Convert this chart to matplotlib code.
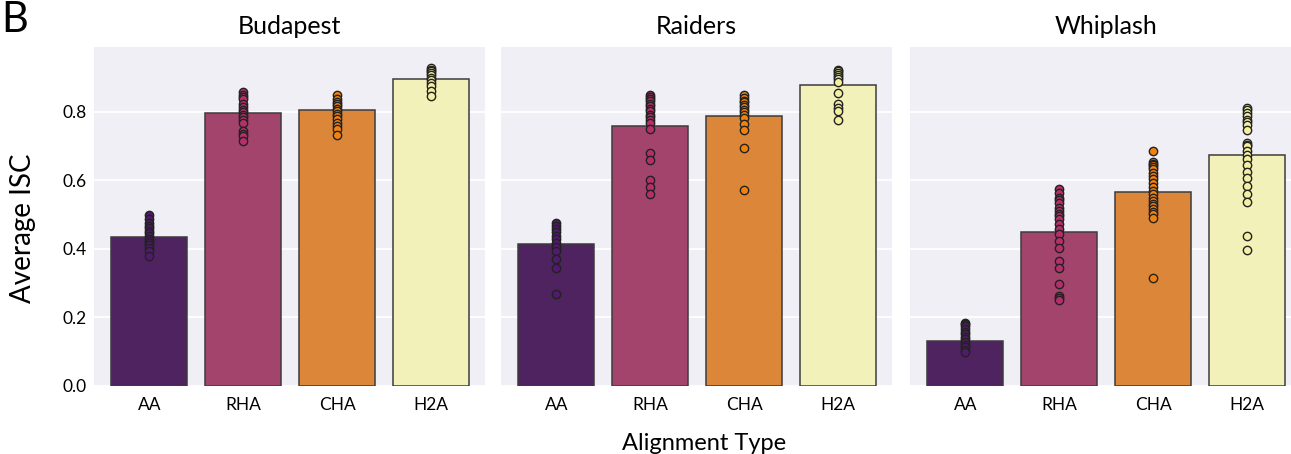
import matplotlib
matplotlib.use('Agg')
from matplotlib import pyplot as plt

categories = ['AA', 'RHA', 'CHA', 'H2A']
movies = ['Budapest', 'Raiders', 'Whiplash']

# bar heights (mean ISC per alignment type)
budapest_means = [0.435, 0.797, 0.804, 0.896]
raiders_means = [0.415, 0.760, 0.787, 0.879]
whiplash_means = [0.132, 0.449, 0.567, 0.675]

# individual subject values
budapest_aa = [0.499, 0.486, 0.476, 0.467, 0.460, 0.452, 0.445, 0.438, 0.430,
               0.423, 0.418, 0.410, 0.404, 0.393, 0.379]
budapest_rha = [0.858, 0.850, 0.843, 0.836, 0.823, 0.815, 0.806, 0.799, 0.792,
                0.785, 0.777, 0.768, 0.743, 0.736, 0.729, 0.714]
budapest_cha = [0.848, 0.838, 0.828, 0.822, 0.816, 0.808, 0.801, 0.794, 0.787,
                0.779, 0.766, 0.758, 0.750, 0.731]
budapest_h2a = [0.928, 0.923, 0.918, 0.913, 0.908, 0.900, 0.892, 0.885, 0.874,
                0.860, 0.847]

raiders_aa = [0.476, 0.467, 0.457, 0.448, 0.438, 0.428, 0.418, 0.405, 0.394,
              0.372, 0.345, 0.268]
raiders_rha = [0.850, 0.843, 0.837, 0.831, 0.823, 0.816, 0.808, 0.801, 0.792,
               0.785, 0.777, 0.766, 0.750, 0.680, 0.659, 0.601, 0.581, 0.559]
raiders_cha = [0.850, 0.840, 0.833, 0.828, 0.820, 0.814, 0.806, 0.799, 0.790,
               0.782, 0.763, 0.746, 0.693, 0.571]
raiders_h2a = [0.923, 0.918, 0.913, 0.908, 0.903, 0.895, 0.886, 0.855, 0.823,
               0.810, 0.801, 0.777]

whiplash_aa = [0.185, 0.180, 0.174, 0.166, 0.159, 0.152, 0.144, 0.136, 0.127,
               0.120, 0.113, 0.105, 0.098]
whiplash_rha = [0.575, 0.562, 0.549, 0.542, 0.535, 0.520, 0.512, 0.503, 0.495,
                0.486, 0.472, 0.457, 0.443, 0.423, 0.404, 0.365, 0.345, 0.297,
                0.263, 0.256, 0.250]
whiplash_cha = [0.687, 0.654, 0.649, 0.644, 0.638, 0.632, 0.622, 0.612, 0.603,
                0.593, 0.581, 0.569, 0.559, 0.549, 0.540, 0.532, 0.524, 0.515,
                0.508, 0.501, 0.491, 0.316]
whiplash_h2a = [0.811, 0.804, 0.797, 0.787, 0.777, 0.769, 0.761, 0.748, 0.709,
                0.704, 0.699, 0.687, 0.675, 0.661, 0.644, 0.625, 0.606, 0.583,
                0.559, 0.538, 0.438, 0.397]

y_ticks = [0.0, 0.2, 0.4, 0.6, 0.8]

all_means = [budapest_means, raiders_means, whiplash_means]
all_points = [
    [budapest_aa, budapest_rha, budapest_cha, budapest_h2a],
    [raiders_aa, raiders_rha, raiders_cha, raiders_h2a],
    [whiplash_aa, whiplash_rha, whiplash_cha, whiplash_h2a],
]

bar_colors = ['#4f2260', '#a3446c', '#dc863a', '#f2f1b9']
dot_colors = ['#521a6c', '#b62f6b', '#f2820f', '#f4f0a2']

plt.rcParams['font.family'] = ['Lato', 'DejaVu Sans']

fig = plt.figure(figsize=(12.91, 4.54), dpi=100)

W, H = 1291, 454
lefts = [94, 501, 910]
ax_w = 391
ax_top, ax_bot = 46.7, 386

for i, movie in enumerate(movies):
    ax = fig.add_axes([lefts[i] / W, 1 - ax_bot / H, ax_w / W, (ax_bot - ax_top) / H])
    ax.set_facecolor('#efeff5')
    for s in ax.spines.values():
        s.set_visible(False)
    ax.yaxis.grid(True, color='white', linewidth=1.3, zorder=0)
    ax.set_axisbelow(True)

    xs = range(len(categories))
    ax.bar(xs, all_means[i], width=0.81, color=bar_colors,
           edgecolor='#3c3c3c', linewidth=1.1, zorder=2)
    for j, vals in enumerate(all_points[i]):
        ax.scatter([j] * len(vals), vals, s=36, color=dot_colors[j],
                   edgecolor='#222222', linewidth=1.0, zorder=3)

    ax.set_xlim(-0.59, 3.575)
    ax.set_ylim(0, 0.99)
    ax.set_xticks(list(xs))
    ax.set_xticklabels(categories)
    ax.set_yticks(y_ticks)
    ax.tick_params(axis='x', length=0, pad=8, labelsize=12.5)
    ax.tick_params(axis='y', length=0, pad=5, labelsize=12.5)
    if i > 0:
        ax.set_yticklabels([])
    ax.set_title(movie, fontsize=18, pad=9)

fig.text(23 / W, 1 - 228 / H, 'Average ISC', rotation=90, fontsize=20,
         ha='center', va='center')
fig.text(704.5 / W, 1 - 450 / H, 'Alignment Type', fontsize=17,
         ha='center', va='baseline')
fig.text(1 / W, 0.998, 'B', fontsize=30, ha='left', va='top')

plt.savefig('out.png', dpi=100)
